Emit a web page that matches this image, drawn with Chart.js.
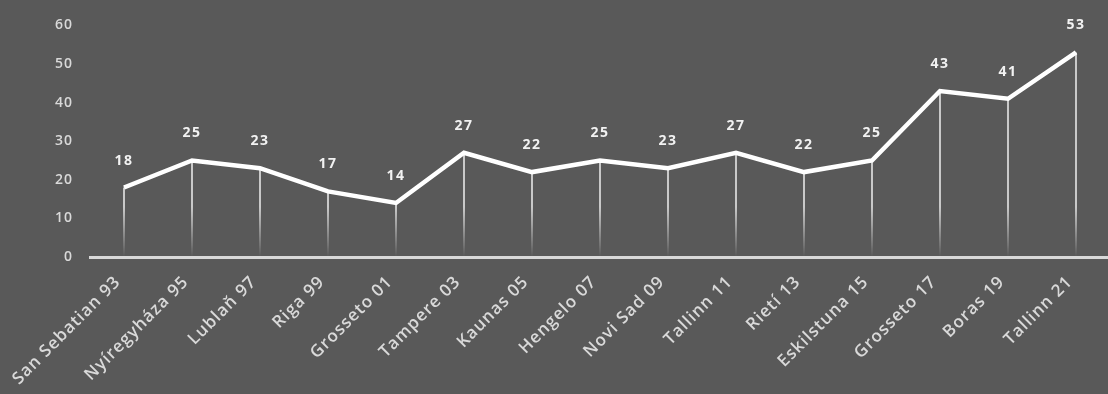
<!DOCTYPE html>
<html>
<head>
<meta charset="utf-8">
<script src="https://cdn.jsdelivr.net/npm/chart.js@4/dist/chart.umd.min.js"></script>
<style>
html, body { margin: 0; padding: 0; background: #595959; overflow: hidden; }
#chart-container { position: relative; width: 1110px; height: 394px; }
</style>
</head>
<body>
<div id="chart-container"><canvas id="MainChart"></canvas></div>
<script>
// championships and how many took part
var cities = ['San Sebatian 93', 'Nyíregyháza 95', 'Lublaň 97', 'Riga 99', 'Grosseto 01',
    'Tampere 03', 'Kaunas 05', 'Hengelo 07', 'Novi Sad 09', 'Tallinn 11',
    'Rietí 13', 'Eskilstuna 15', 'Grosseto 17', 'Boras 19', 'Tallinn 21'];
var counts = [18, 25, 23, 17, 14, 27, 22, 25, 23, 27, 22, 25, 43, 41, 53];
var yTicks = [0, 10, 20, 30, 40, 50, 60];

var textColor = '#d9d9d9';

// loose letter spacing on the texts
var spacing = {
    id: 'spacing',
    beforeDraw: function(chart) { chart.ctx.letterSpacing = '1px'; },
    beforeDatasetsDraw: function(chart) { chart.ctx.letterSpacing = '1.5px'; },
    afterDraw: function(chart) { chart.ctx.letterSpacing = '0px'; }
};

// thin lines from each point down to the axis, fading out at the bottom
var dropLines = {
    id: 'dropLines',
    beforeDatasetsDraw: function(chart) {
        var ctx = chart.ctx;
        var base = chart.scales.y.getPixelForValue(0);
        ctx.save();
        ctx.lineWidth = 1.5;
        var g = ctx.createLinearGradient(0, base - 50, 0, base);
        g.addColorStop(0, 'rgba(255,255,255,0.9)');
        g.addColorStop(1, 'rgba(255,255,255,0)');
        ctx.strokeStyle = g;
        chart.getDatasetMeta(0).data.forEach(function(pt) {
            ctx.beginPath();
            ctx.moveTo(pt.x, pt.y);
            ctx.lineTo(pt.x, base);
            ctx.stroke();
        });
        ctx.restore();
    }
};

// value above every point
var valueLabels = {
    id: 'valueLabels',
    afterDatasetsDraw: function(chart) {
        var ctx = chart.ctx;
        ctx.save();
        ctx.font = 'bold 14px "Open Sans"';
        ctx.fillStyle = '#f2f2f2';
        ctx.textAlign = 'center';
        ctx.textBaseline = 'middle';
        chart.getDatasetMeta(0).data.forEach(function(pt, i) {
            ctx.fillText(counts[i], pt.x, pt.y - 27);
        });
        ctx.restore();
    }
};

var ctx = document.getElementById('MainChart').getContext('2d');
var MainChart = new Chart(ctx, {
    type: 'line',
    data: {
        labels: cities,
        datasets: [{
            data: counts,
            borderColor: '#ffffff',
            borderWidth: 4.5,
            borderJoinStyle: 'miter',
            pointRadius: 0,
            tension: 0,
            fill: false
        }]
    },
    options: {
        responsive: true,
        maintainAspectRatio: false,
        animation: false,
        layout: { padding: { top: 23, left: 0, right: 0, bottom: 0 } },
        plugins: {
            legend: { display: false },
            tooltip: { enabled: false }
        },
        scales: {
            x: {
                offset: true,
                grid: { display: false, drawTicks: false },
                border: { display: true, color: '#d9d9d9', width: 3 },
                ticks: {
                    color: textColor,
                    font: { family: 'Open Sans', size: 17, weight: '600' },
                    minRotation: 45,
                    maxRotation: 45,
                    autoSkip: false,
                    padding: 15,
                    labelOffset: -6
                },
                afterFit: function(scale) {
                    scale.height = 137;
                    scale.paddingLeft = 0;
                    scale.paddingRight = 0;
                }
            },
            y: {
                z: 1,
                min: yTicks[0],
                max: yTicks[yTicks.length - 1],
                grid: { display: false, drawTicks: false },
                border: { display: false },
                afterBuildTicks: function(scale) {
                    scale.ticks = yTicks.map(function(v) { return { value: v }; });
                },
                ticks: {
                    color: textColor,
                    font: { family: 'Open Sans', size: 14, weight: '600' },
                    padding: 17
                },
                afterFit: function(scale) { scale.width = 90; }
            }
        }
    },
    plugins: [spacing, dropLines, valueLabels]
});
</script>
</body>
</html>
